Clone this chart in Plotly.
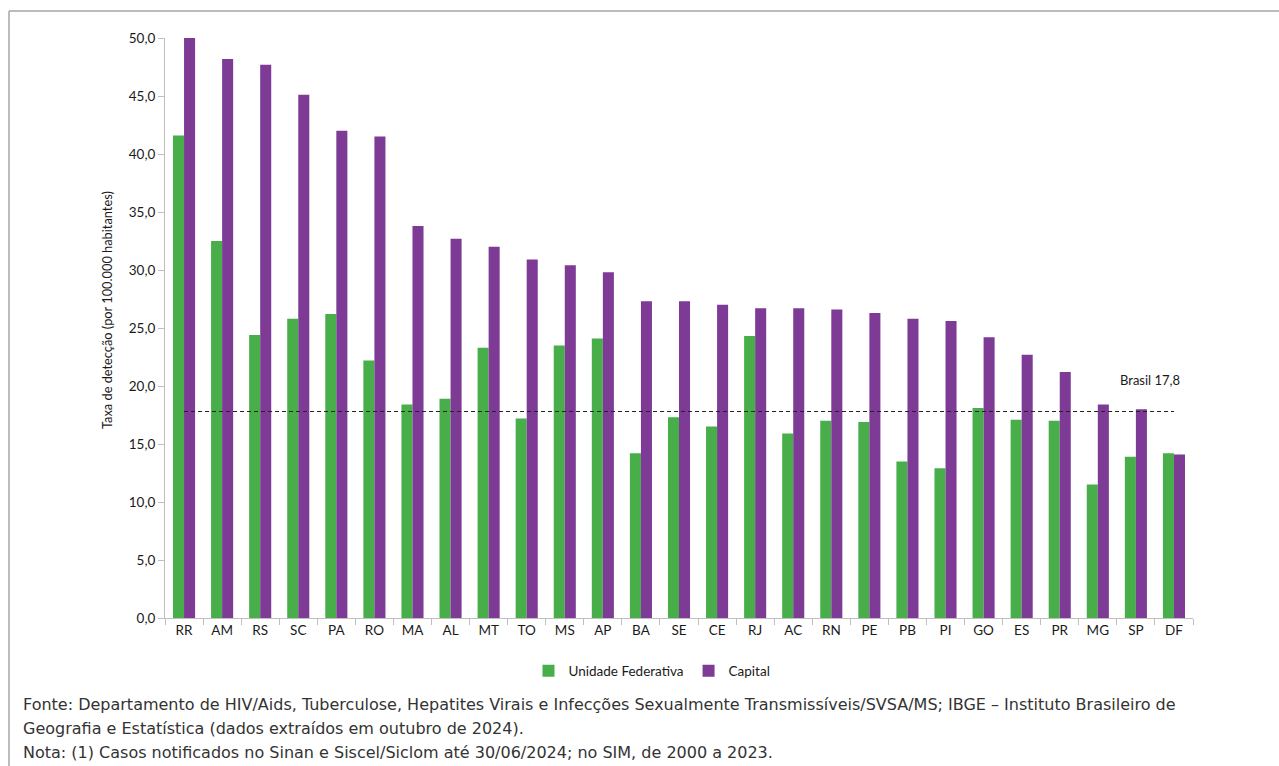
import plotly.graph_objects as go

# Taxa de detecção por UF e capital
ufs = ["RR", "AM", "RS", "SC", "PA", "RO", "MA", "AL", "MT", "TO", "MS", "AP", "BA", "SE",
       "CE", "RJ", "AC", "RN", "PE", "PB", "PI", "GO", "ES", "PR", "MG", "SP", "DF"]
unidade_federativa = [41.6, 32.5, 24.4, 25.8, 26.2, 22.2, 18.4, 18.9, 23.3, 17.2, 23.5, 24.1, 14.2, 17.3,
                      16.5, 24.3, 15.9, 17.0, 16.9, 13.5, 12.9, 18.1, 17.1, 17.0, 11.5, 13.9, 14.2]
capital = [50.0, 48.2, 47.7, 45.1, 42.0, 41.5, 33.8, 32.7, 32.0, 30.9, 30.4, 29.8, 27.3, 27.3,
           27.0, 26.7, 26.7, 26.6, 26.3, 25.8, 25.6, 24.2, 22.7, 21.2, 18.4, 18.0, 14.1]
brasil = 17.8

y_ticks = [0, 5, 10, 15, 20, 25, 30, 35, 40, 45, 50]
y_tick_labels = ["0,0", "5,0", "10,0", "15,0", "20,0", "25,0", "30,0", "35,0", "40,0", "45,0", "50,0"]

GREEN = "#48AE4A"
PURPLE = "#7D3B96"
AXIS_GRAY = "#BFBFBF"
TXT = "#1a1a1a"

fig = go.Figure()
fig.add_trace(go.Bar(x=ufs, y=unidade_federativa, name="Unidade Federativa",
                     marker=dict(color=GREEN, line=dict(width=0))))
fig.add_trace(go.Bar(x=ufs, y=capital, name="Capital",
                     marker=dict(color=PURPLE, line=dict(width=0))))
fig.add_trace(go.Scatter(x=ufs, y=[brasil] * len(ufs), mode="lines", showlegend=False,
                         line=dict(color="#222222", width=1.2, dash="4px,3px"), hoverinfo="skip"))

# plot area in pixels: x 165..1193, y 38..618
L, R, T, B = 165, 1193, 38, 618
W, H = 1279, 766


def px(xp):
    return (xp - L) / (R - L)


def py(yp):
    return (B - yp) / (B - T)


foot_font = dict(family="DejaVu Sans, sans-serif", size=16, color="#333333")
footnotes = [
    (704, "Fonte: Departamento de HIV/Aids, Tuberculose, Hepatites Virais e Infecções Sexualmente Transmissíveis/SVSA/MS; IBGE – Instituto Brasileiro de"),
    (728, "Geografia e Estatística (dados extraídos em outubro de 2024)."),
    (752, "Nota: (1) Casos notificados no Sinan e Siscel/Siclom até 30/06/2024; no SIM, de 2000 a 2023."),
]
annotations = [
    dict(text=t, x=px(21), y=py(yc), xref="paper", yref="paper", xanchor="left", yanchor="middle",
         showarrow=False, font=foot_font)
    for yc, t in footnotes
]
annotations.append(dict(text="Taxa de detecção (por 100.000 habitantes)", x=px(107), y=py(310),
                        xref="paper", yref="paper", textangle=-90, showarrow=False,
                        xanchor="center", yanchor="middle",
                        font=dict(family="Lato, sans-serif", size=12.8, color=TXT)))
annotations.append(dict(text="Brasil 17,8", x=px(1150), y=py(380), xref="paper", yref="paper",
                        showarrow=False, xanchor="center", yanchor="middle",
                        font=dict(family="Lato, sans-serif", size=13, color=TXT)))

shapes = [
    dict(type="line", xref="paper", yref="paper", x0=px(9), x1=px(1290), y0=py(11), y1=py(11),
         line=dict(color="#A6A6A6", width=1.5)),
    dict(type="line", xref="paper", yref="paper", x0=px(9), x1=px(9), y0=py(11), y1=py(780),
         line=dict(color="#A6A6A6", width=1.5)),
]

fig.update_layout(
    width=W, height=H,
    margin=dict(l=L, r=W - R, t=T, b=H - B),
    paper_bgcolor="white", plot_bgcolor="white",
    barmode="group", bargap=0.42, bargroupgap=0,
    font=dict(family="Lato, sans-serif", size=13, color=TXT),
    legend=dict(orientation="h", x=px(652), y=py(671), xanchor="center", yanchor="middle",
                font=dict(family="Lato, sans-serif", size=13.5, color=TXT),
                itemwidth=30, traceorder="normal"),
    annotations=annotations,
    shapes=shapes,
    showlegend=True,
)
fig.update_xaxes(type="category", showline=True, linecolor=AXIS_GRAY, linewidth=1,
                 ticks="outside", tickson="boundaries", ticklen=6, tickcolor=AXIS_GRAY,
                 showgrid=False, tickfont=dict(size=13.5, color=TXT))
fig.update_yaxes(range=[0, 50], tickvals=y_ticks, ticktext=y_tick_labels, showline=True,
                 linecolor=AXIS_GRAY, linewidth=1, ticks="outside", ticklen=6, tickcolor=AXIS_GRAY,
                 showgrid=False, zeroline=False, tickfont=dict(size=13.5, color=TXT))

fig.write_html("out.html")
